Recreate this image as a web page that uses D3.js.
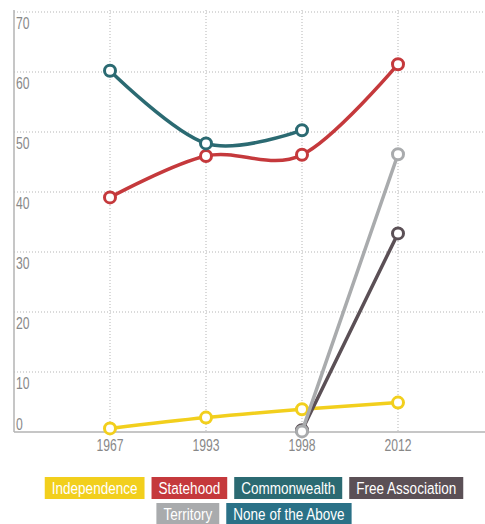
<!DOCTYPE html>
<html>
<head>
<meta charset="utf-8">
<script src="https://cdn.jsdelivr.net/npm/d3@7/dist/d3.min.js"></script>
<style>
  html, body { margin: 0; padding: 0; background: #fff; }
  svg { display: block; }
</style>
</head>
<body>
<svg id="chart" width="485" height="524"></svg>
<script>
const years = ["1967", "1993", "1998", "2012"];
const yTicks = [0, 10, 20, 30, 40, 50, 60, 70];
const seriesNames = ["Independence", "Statehood", "Commonwealth", "Free Association", "Territory", "None of the Above"];
const seriesColors = ["#f2cf1d", "#c5393c", "#2b6a72", "#5b5056", "#a9abad", "#2a7187"];

const independence   = [0.6, 2.4, 3.8, 4.9];
const statehood      = [39.1, 46.0, 46.2, 61.3];
const commonwealth   = [60.2, 48.1, 50.3, null];
const freeAssociation= [null, null, 0.3, 33.1];
const territory      = [null, null, 0.1, 46.3];
const noneOfTheAbove = [null, null, null, null];

const seriesValues = [independence, statehood, commonwealth, freeAssociation, territory, noneOfTheAbove];

(function () {
const svg = d3.select("#chart");
const pLeft = 14, pRight = 494, pTop = 12, pBottom = 432;

const x = d3.scalePoint().domain(years).range([pLeft, pRight]).padding(1);
const y = d3.scaleLinear().domain([0, 70]).range([pBottom, pTop]);

const font = "'Liberation Sans', Arial, sans-serif";

function narrowText(parent, tx, ty, str, size, color, anchor, sx) {
  const g = parent.append("g").attr("transform", `translate(${tx},${ty}) scale(${sx},1)`);
  return g.append("text").attr("x", 0).attr("y", 0)
    .attr("text-anchor", anchor || "start")
    .attr("font-family", font).attr("font-size", size).attr("fill", color)
    .text(str);
}

// horizontal dotted grid
svg.append("g").selectAll("line").data(yTicks.filter(d => d > 0)).join("line")
  .attr("x1", pLeft).attr("x2", 485)
  .attr("y1", d => y(d)).attr("y2", d => y(d))
  .attr("stroke", "#b5b5b5").attr("stroke-width", 1).attr("stroke-dasharray", "1,2");

// vertical dotted grid
svg.append("g").selectAll("line").data(years).join("line")
  .attr("x1", d => x(d)).attr("x2", d => x(d))
  .attr("y1", pTop - 2).attr("y2", pBottom)
  .attr("stroke", "#b5b5b5").attr("stroke-width", 1).attr("stroke-dasharray", "1,2");

// axes lines
svg.append("line").attr("x1", pLeft).attr("x2", pLeft).attr("y1", pTop - 2).attr("y2", pBottom)
  .attr("stroke", "#b3b3b3").attr("stroke-width", 1.5);
svg.append("line").attr("x1", pLeft).attr("x2", 485).attr("y1", pBottom).attr("y2", pBottom)
  .attr("stroke", "#b3b3b3").attr("stroke-width", 1.5);

// y tick labels
const yl = svg.append("g");
yTicks.forEach(d => {
  narrowText(yl, pLeft + 2, Math.min(y(d) + 17, pBottom - 2), d, 16, "#888", "start", 0.76);
});

// x tick labels
const xl = svg.append("g");
years.forEach(d => {
  narrowText(xl, x(d), pBottom + 19, d, 16, "#888", "middle", 0.76);
});

// lines
const line = d3.line()
  .x(d => x(d.year)).y(d => y(d.v))
  .curve(d3.curveCardinal);

seriesNames.forEach((name, i) => {
  const pts = years.map((yr, j) => ({ year: yr, v: seriesValues[i][j] }));
  const valid = pts.filter(d => d.v != null);
  if (!valid.length) return;
  const g = svg.append("g");
  g.append("path").datum(valid)
    .attr("d", line).attr("fill", "none")
    .attr("stroke", seriesColors[i]).attr("stroke-width", 3.5)
    .attr("stroke-linejoin", "round").attr("stroke-linecap", "round");
  g.selectAll("circle").data(valid).join("circle")
    .attr("cx", d => x(d.year)).attr("cy", d => y(d.v)).attr("r", 5.5)
    .attr("fill", "#fff").attr("stroke", seriesColors[i]).attr("stroke-width", 3);
});

// legend (flow layout, centred on plot)
const legend = svg.append("g");
const LS = 16.5, LSX = 0.82;
const items = seriesNames.map((name, i) => {
  const t = legend.append("text").attr("font-family", font).attr("font-size", LS).text(name);
  const w = t.node().getComputedTextLength() * LSX;
  t.remove();
  return { name, color: seriesColors[i], w: w + 14 };
});
const gap = 7, maxW = 430, rowH = 22, rowGap = 4;
const rows = [[]]; let cur = 0;
items.forEach(it => {
  const add = (rows[rows.length - 1].length ? gap : 0) + it.w;
  if (cur + add > maxW && rows[rows.length - 1].length) { rows.push([]); cur = 0; }
  const r = rows[rows.length - 1];
  cur += (r.length ? gap : 0) + it.w;
  r.push(it);
});
const cx = (pLeft + pRight) / 2;
rows.forEach((r, ri) => {
  const tot = d3.sum(r, d => d.w) + gap * (r.length - 1);
  let xx = cx - tot / 2;
  const yy = 477 + ri * (rowH + rowGap);
  r.forEach(it => {
    legend.append("rect").attr("x", xx).attr("y", yy).attr("width", it.w).attr("height", rowH)
      .attr("fill", it.color);
    narrowText(legend, xx + it.w / 2, yy + 16.5, it.name, LS, "#fff", "middle", LSX);
    xx += it.w + gap;
  });
});
})();
</script>
</body>
</html>
